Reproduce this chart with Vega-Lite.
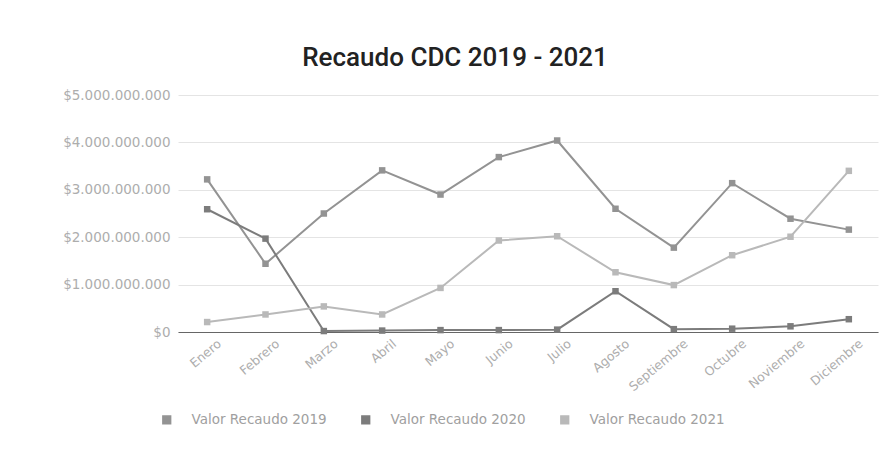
{
  "$schema": "https://vega.github.io/schema/vega-lite/v6.json",
  "width": 700,
  "height": 237,
  "autosize": {"type": "none"},
  "padding": {"left": 178, "top": 95, "right": 18, "bottom": 118},
  "background": "white",
  "title": {
    "text": "Recaudo CDC 2019 - 2021",
    "font": "Roboto",
    "fontWeight": 500,
    "fontSize": 26,
    "color": "#222222",
    "anchor": "middle",
    "dx": -73,
    "offset": 17
  },
  "config": {
    "locale": {
      "number": {"decimal": ",", "thousands": ".", "grouping": [3], "currency": ["$", ""]}
    },
    "view": {"stroke": null},
    "axis": {
      "labelFont": "DejaVu Sans",
      "labelFontSize": 12.5,
      "labelColor": "#adadad",
      "ticks": false,
      "title": null
    },
    "legend": {
      "labelFont": "DejaVu Sans",
      "labelFontSize": 13.5,
      "labelColor": "#a0a0a0"
    }
  },
  "data": {
    "values": [
      {"mes": "Enero", "serie": "Valor Recaudo 2019", "valor": 3220000000},
      {"mes": "Febrero", "serie": "Valor Recaudo 2019", "valor": 1440000000},
      {"mes": "Marzo", "serie": "Valor Recaudo 2019", "valor": 2500000000},
      {"mes": "Abril", "serie": "Valor Recaudo 2019", "valor": 3410000000},
      {"mes": "Mayo", "serie": "Valor Recaudo 2019", "valor": 2900000000},
      {"mes": "Junio", "serie": "Valor Recaudo 2019", "valor": 3690000000},
      {"mes": "Julio", "serie": "Valor Recaudo 2019", "valor": 4040000000},
      {"mes": "Agosto", "serie": "Valor Recaudo 2019", "valor": 2600000000},
      {"mes": "Septiembre", "serie": "Valor Recaudo 2019", "valor": 1780000000},
      {"mes": "Octubre", "serie": "Valor Recaudo 2019", "valor": 3140000000},
      {"mes": "Noviembre", "serie": "Valor Recaudo 2019", "valor": 2390000000},
      {"mes": "Diciembre", "serie": "Valor Recaudo 2019", "valor": 2160000000},
      {"mes": "Enero", "serie": "Valor Recaudo 2020", "valor": 2590000000},
      {"mes": "Febrero", "serie": "Valor Recaudo 2020", "valor": 1970000000},
      {"mes": "Marzo", "serie": "Valor Recaudo 2020", "valor": 20000000},
      {"mes": "Abril", "serie": "Valor Recaudo 2020", "valor": 30000000},
      {"mes": "Mayo", "serie": "Valor Recaudo 2020", "valor": 40000000},
      {"mes": "Junio", "serie": "Valor Recaudo 2020", "valor": 40000000},
      {"mes": "Julio", "serie": "Valor Recaudo 2020", "valor": 50000000},
      {"mes": "Agosto", "serie": "Valor Recaudo 2020", "valor": 860000000},
      {"mes": "Septiembre", "serie": "Valor Recaudo 2020", "valor": 60000000},
      {"mes": "Octubre", "serie": "Valor Recaudo 2020", "valor": 70000000},
      {"mes": "Noviembre", "serie": "Valor Recaudo 2020", "valor": 120000000},
      {"mes": "Diciembre", "serie": "Valor Recaudo 2020", "valor": 270000000},
      {"mes": "Enero", "serie": "Valor Recaudo 2021", "valor": 210000000},
      {"mes": "Febrero", "serie": "Valor Recaudo 2021", "valor": 370000000},
      {"mes": "Marzo", "serie": "Valor Recaudo 2021", "valor": 540000000},
      {"mes": "Abril", "serie": "Valor Recaudo 2021", "valor": 370000000},
      {"mes": "Mayo", "serie": "Valor Recaudo 2021", "valor": 930000000},
      {"mes": "Junio", "serie": "Valor Recaudo 2021", "valor": 1930000000},
      {"mes": "Julio", "serie": "Valor Recaudo 2021", "valor": 2020000000},
      {"mes": "Agosto", "serie": "Valor Recaudo 2021", "valor": 1260000000},
      {"mes": "Septiembre", "serie": "Valor Recaudo 2021", "valor": 990000000},
      {"mes": "Octubre", "serie": "Valor Recaudo 2021", "valor": 1620000000},
      {"mes": "Noviembre", "serie": "Valor Recaudo 2021", "valor": 2010000000},
      {"mes": "Diciembre", "serie": "Valor Recaudo 2021", "valor": 3400000000}
    ]
  },
  "encoding": {
    "x": {
      "field": "mes",
      "type": "ordinal",
      "sort": ["Enero", "Febrero", "Marzo", "Abril", "Mayo", "Junio", "Julio", "Agosto", "Septiembre", "Octubre", "Noviembre", "Diciembre"],
      "axis": {
        "labelAngle": -40,
        "labelAlign": "right",
        "labelBaseline": "top",
        "labelOffset": 8,
        "labelPadding": 5,
        "domainColor": "#666666",
        "domainWidth": 1.2,
        "grid": false
      }
    },
    "y": {
      "field": "valor",
      "type": "quantitative",
      "scale": {"domain": [0, 5000000000]},
      "axis": {
        "format": "$,.0f",
        "tickCount": 5,
        "labelFontSize": 13.5,
        "labelPadding": 8,
        "domain": false,
        "gridColor": "#e4e4e4",
        "gridWidth": 1
      }
    },
    "color": {
      "field": "serie",
      "type": "nominal",
      "scale": {
        "domain": ["Valor Recaudo 2019", "Valor Recaudo 2020", "Valor Recaudo 2021"],
        "range": ["#939393", "#7c7c7c", "#b9b9b9"]
      },
      "legend": {
        "title": null,
        "orient": "none",
        "direction": "horizontal",
        "legendX": -18,
        "legendY": 318,
        "symbolType": "square",
        "symbolSize": 60,
        "labelOffset": 18,
        "columnPadding": 31
      }
    }
  },
  "layer": [
    {
      "mark": {"type": "line", "strokeWidth": 2}
    },
    {
      "mark": {"type": "point", "shape": "square", "filled": true, "size": 42, "opacity": 1}
    }
  ]
}
